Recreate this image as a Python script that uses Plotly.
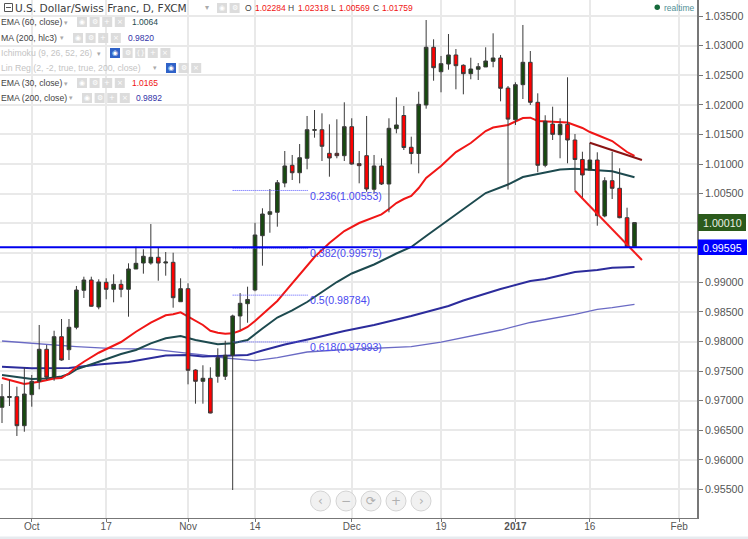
import plotly.graph_objects as go

# ---------- data ----------
opens = [.96889,.97054,.97068,.96578,.97102,.97328,.97869,.97396,.98082,.97862,.98241,.98866,.9904,.98584,.99001,.98883,.98967,.98883,.99226,.99327,.99327,.99424,.99327,.99339,.98673,.98893,.97519,.97328,.97379,.97413,.97413,.97768,.98432,.9864,.98871,.99789,1.0015,1.00184,1.00679,1.00979,1.00853,1.01097,1.0157,1.0158,1.01181,1.01181,1.01141,1.01631,1.01006,1.01141,1.00573,1.00967,1.00662,1.01597,1.0182,1.01283,1.01178,1.01998,1.02973,1.0256,1.0269,1.02843,1.02669,1.02527,1.02601,1.0264,1.02736,1.02792,1.02284,1.01749,1.02341,1.02719,1.02043,1.00979,1.01676,1.01496,1.01671,1.01406,1.01077,1.00899,1.01068,1.00122,1.00718,1.0059,1.00093,.99603]
highs = [.97282,.9735,.97237,.97558,.97435,.9828,.97942,.98183,.98381,.98381,.98939,.99096,.99096,.99052,.99069,.99136,.99045,.99322,.99603,.99559,.99986,.99586,.99513,.99501,.99069,.98984,.97531,.97599,.97565,.97886,.98014,.98454,.9882,.98927,1.00008,1.00252,1.00578,1.0073,1.0122,1.01153,1.01338,1.01812,1.01913,1.01857,1.01671,1.01756,1.02043,1.01773,1.0122,1.01812,1.01153,1.01097,1.01773,1.02128,1.01981,1.01462,1.02222,1.03434,1.03108,1.02826,1.03197,1.02944,1.02685,1.02797,1.02707,1.02973,1.03209,1.02843,1.02318,1.02381,1.0335,1.0291,1.02195,1.01824,1.01969,1.01773,1.02466,1.01507,1.01208,1.0136,1.01198,1.00776,1.01208,1.00928,1.00262,1.0001]
lows = [.96623,.96911,.96404,.96476,.96899,.97193,.9735,.97338,.97676,.97688,.98207,.98736,.98589,.98545,.98714,.98663,.98748,.9842,.99226,.99147,.99299,.99028,.99113,.98572,.98673,.97277,.9695,.9695,.96787,.97304,.9735,.95491,.98195,.98318,.9885,.99282,.99839,.99941,1.00607,1.0073,1.00674,1.00911,1.01445,1.01051,1.00786,1.01097,1.01051,1.00989,1.00674,1.00532,1.00505,1.00646,1.00184,1.01519,1.01237,1.00997,1.00843,1.01935,1.02408,1.02212,1.02594,1.02263,1.02178,1.02432,1.0242,1.0264,1.02635,1.0206,1.00569,1.0166,1.02099,1.01998,1.0086,1.00945,1.01406,1.01097,1.01012,1.00549,1.00421,1.00899,.99958,1.001,1.00409,1.00083,.99593,.99595]
closes = [.97068,.97071,.96578,.97113,.97328,.97869,.97396,.98082,.97688,.98241,.98871,.9904,.98596,.99006,.98883,.98967,.98883,.99226,.99322,.99441,.99424,.99327,.99344,.98741,.98893,.97514,.97328,.97379,.96792,.97727,.97768,.98432,.98646,.98711,.99801,1.00155,1.00194,1.00684,1.00967,1.00853,1.01107,1.0158,1.0158,1.013,1.01102,1.01141,1.01631,1.01,1.00972,1.00578,1.00967,1.00662,1.01604,1.0166,1.01279,1.01178,1.02009,1.02973,1.02628,1.02696,1.02843,1.02662,1.02527,1.02606,1.02645,1.02741,1.02792,1.0228,1.01759,1.02341,1.02719,1.02043,1.00979,1.01722,1.01502,1.01671,1.01406,1.01077,1.00815,1.01068,1.00127,1.00718,1.0059,1.00093,.99603,1.0001]

ema30_i = [0,3,5,7,8,9,10,11,13,16,18,20,22,23,24,25,27,28,29,30,31,32,33,34,35,36,37,38,40,42,44,46,48,50,51,52,53,54,55,56,57,59,61,63,65,66,68,70,71,72,74,76,78,79,80,82,84,85]
ema30 = [.97384,.97282,.97321,.97375,.97384,.97463,.97575,.97659,.97811,.97992,.98166,.98318,.98444,.9846,.98494,.9842,.9828,.98183,.98149,.98133,.98139,.98183,.98246,.98347,.98465,.98584,.98685,.98837,.99141,.99429,.99665,.99868,1.00003,1.00105,1.0015,1.0024,1.00341,1.00409,1.0046,1.00595,1.00764,1.00967,1.01203,1.01355,1.01558,1.01617,1.0166,1.01778,1.01783,1.01727,1.0171,1.01702,1.01609,1.01541,1.01491,1.01389,1.01203,1.01136]

ema60_i = [0,3,4,6,8,9,10,13,16,18,20,22,24,26,28,29,31,33,35,37,39,41,43,45,47,50,53,55,57,60,63,65,68,70,72,75,77,80,82,85]
ema60 = [.97435,.97384,.97367,.97375,.97409,.97451,.97531,.97659,.9779,.97857,.9797,.98055,.98094,.98026,.9797,.97953,.9797,.98026,.9822,.98406,.98525,.98668,.98837,.99006,.9915,.99302,.99488,.99598,.99784,1.00054,1.00324,1.0051,1.00654,1.00781,1.00831,1.00908,1.00921,1.00887,1.00877,1.00776]

ema200_i = [0,4,9,13,17,20,22,25,27,30,33,35,38,42,46,50,55,60,62,67,71,73,77,80,82,85]
ema200 = [.97575,.97548,.97553,.97612,.97654,.97713,.97764,.97773,.97747,.97761,.97773,.97849,.9795,.9806,.98178,.9828,.98432,.98601,.98694,.98888,.99023,.99057,.99175,.99209,.99248,.9926]

ma200_i = [0,4,6,10,15,20,23,27,30,31,34,37,41,45,51,55,59,64,67,71,73,77,80,82,85]
ma200 = [.98009,.9797,.97958,.97913,.97879,.97874,.97828,.97776,.97722,.97713,.97676,.9773,.97823,.97857,.97886,.97913,.97992,.98111,.98195,.98322,.98364,.9846,.98545,.98572,.98629]

wedge_upper_i, wedge_upper = [79, 86], [1.0136, 1.01068]
wedge_lower_i, wedge_lower = [77, 86], [1.00549, .99378]

fib_labels = ["0.236(1.00553)", "0.382(0.99575)", "0.5(0.98784)", "0.618(0.97993)"]
fib_levels = [1.00553, .99575, .98784, .97993]
fib_span = [31, 41.2]

support = 0.99595
last_price = 1.00010

x_tick_pos = [4, 14, 25, 34, 47, 59, 69, 79, 91]
x_tick_text = ["Oct", "17", "Nov", "14", "Dec", "19", "<b>2017</b>", "16", "Feb"]
y_ticks = [1.035, 1.03, 1.025, 1.02, 1.015, 1.01, 1.005, 1.0, .995, .99, .985, .98, .975, .97, .965, .96, .955]
y_tick_hidden = [1.0, .995]   # covered by the price boxes in the reference

# ---------- geometry ----------
W, H = 748, 539
PR, PB = 697, 518          # plot right / bottom in pixels
X_RANGE = [-0.27, 93.4]
Y_RANGE = [.95018, 1.03772]
GREEN, RED = "#17490f", "#ff0000"
FONT = "Liberation Sans, Arial, sans-serif"

def px(x):
    return x / PR

def py(y):
    return (PB - y) / PB

fig = go.Figure()

def ma(xs, ys, color, width):
    fig.add_trace(go.Scatter(x=xs, y=ys, mode="lines", line=dict(color=color, width=width),
                             showlegend=False, hoverinfo="skip"))

ma(ma200_i, ma200, "#6a6ac4", 1.3)
ma(ema200_i, ema200, "#2c2c9c", 2)
ma(ema60_i, ema60, "#1d4a4f", 2)
ma(ema30_i, ema30, "#f01616", 2)

fig.add_trace(go.Candlestick(
    x=list(range(len(opens))), open=opens, high=highs, low=lows, close=closes,
    xaxis="x2", yaxis="y2", showlegend=False, hoverinfo="skip",
    increasing=dict(line=dict(color="#3a3a3a", width=1), fillcolor=GREEN),
    decreasing=dict(line=dict(color="#3a3a3a", width=1), fillcolor=RED),
))
fig.add_trace(go.Scatter(x=wedge_upper_i, y=wedge_upper, mode="lines", xaxis="x2", yaxis="y2",
                         line=dict(color="#8a1414", width=2), showlegend=False, hoverinfo="skip"))
fig.add_trace(go.Scatter(x=wedge_lower_i, y=wedge_lower, mode="lines", xaxis="x2", yaxis="y2",
                         line=dict(color="#f41c1c", width=2), showlegend=False, hoverinfo="skip"))
for lv in fib_levels:
    fig.add_trace(go.Scatter(x=fib_span, y=[lv, lv], mode="lines", xaxis="x2", yaxis="y2",
                             line=dict(color="#5a5aff", width=1, dash="1px,1px"),
                             showlegend=False, hoverinfo="skip"))

shapes, annos = [], []

def text(x, y, s, size=8.5, color="#444", anchor="left", family=FONT):
    annos.append(dict(xref="paper", yref="paper", x=px(x), y=py(y), text=s, showarrow=False,
                      xanchor=anchor, yanchor="middle", align="left", borderpad=0, borderwidth=0,
                      font=dict(size=size, color=color, family=family)))

def rect(x0, y0, x1, y1, fill, line=None, layer="above"):
    shapes.append(dict(type="rect", xref="paper", yref="paper", x0=px(x0), x1=px(x1), y0=py(y0), y1=py(y1),
                       fillcolor=fill, line=dict(width=1 if line else 0, color=line or fill), layer=layer))

# support line and price boxes
shapes.append(dict(type="line", xref="paper", yref="y", x0=0, x1=1, y0=support, y1=support,
                   line=dict(color="#0000ee", width=2), layer="above"))
rect(698, 214, 746, 231, "#2b5a1c")
text(722.5, 222.5, f"{last_price:.5f}", 10.7, "#e8efe4", "center")
rect(698, 239.5, 747, 255, "#0000ff")
text(722.5, 247.5, f"{support:.5f}", 10.7, "#ffffff", "center")

# fib labels
for s, yp in zip(fib_labels, [196, 253, 299.5, 347]):
    text(310, yp, s, 10.6, "#4a4af0")

# bottom strip
rect(0, 536.5, W, 539, "#e7ebef")

# nav buttons
for cx, g in zip([320.5, 346, 371, 396, 421], ["‹", "−", "⟳", "+", "›"]):
    r = 10
    shapes.append(dict(type="circle", xref="paper", yref="paper", x0=px(cx - r), x1=px(cx + r),
                       y0=py(501 + r), y1=py(501 - r), fillcolor="rgba(238,238,238,0.85)",
                       line=dict(color="#d4d4d4", width=1), layer="above"))
    text(cx, 501, g, 12, "#b0b0b0", "center", "DejaVu Sans")

# header
rect(4.5, 3.5, 12.5, 11.5, "#ffffff", "#555555")
shapes.append(dict(type="line", xref="paper", yref="paper", x0=px(6), x1=px(11), y0=py(7.5), y1=py(7.5),
                   line=dict(color="#555555", width=1), layer="above"))
text(14.5, 8, "U.S. Dollar/Swiss Franc, D, FXCM", 10.6, "#3c3c3c", family="DejaVu Sans")
text(205, 8, "▾", 8, "#aaa")

def icons(x0, yc, glyphs):
    for k, g in enumerate(glyphs):
        xl = x0 + k * 12.6
        blue = g == "B"
        rect(xl, yc - 5, xl + 10, yc + 5, "#2f62c8" if blue else "#dcdcdc")
        text(xl + 5, yc, "◉" if blue or g == "e" else g, 7, "#ffffff", "center", "DejaVu Sans")

icons(217, 8, ["e", "⚙"])
for x, s, c in [(245, "O", "#444"), (255, "1.02284", "#f01414"), (288, "H", "#444"), (298, "1.02318", "#f01414"),
                (331, "L", "#444"), (339, "1.00569", "#f01414"), (372.5, "C", "#444"), (382, "1.01759", "#f01414")]:
    text(x, 8, s, 8.5, c)

rows = [
    (22, "EMA (60, close)", "#444", 64, 77, ["e", "⚙", "+", "×"], 131.5, "1.0064", "#1d4a4f"),
    (38, "MA (200, hlc3)", "#444", 60, 73, ["e", "⚙", "+", "×"], 127.5, "0.9820", "#3434a8"),
    (53, "Ichimoku (9, 26, 52, 26)", "#c4c4c4", 97, 110, ["B", "⚙", "{}", "+", "×"], None, None, None),
    (68, "Lin Reg (2, -2, true, true, 200, close)", "#c4c4c4", 153, 166, ["B", "⚙", "×"], None, None, None),
    (83, "EMA (30, close)", "#444", 64, 77, ["e", "⚙", "+", "×"], 131.5, "1.0165", "#f01414"),
    (98, "EMA (200, close)", "#444", 69, 82, ["e", "⚙", "+", "×"], 135.5, "0.9892", "#3434a8"),
]
for yc, name, col, arrow_x, icon_x, gl, vx, val, vc in rows:
    text(0.5, yc, name, 8.7, col)
    text(arrow_x, yc, "▾", 7, "#aaa")
    icons(icon_x, yc, gl)
    if val:
        text(vx, yc, val, 8.5, vc)

# realtime
shapes.append(dict(type="circle", xref="paper", yref="paper", x0=px(654.5), x1=px(660), y0=py(10), y1=py(4.5),
                   fillcolor="#15693a", line=dict(width=0), layer="above"))
text(663.5, 7.5, "realtime", 8.5, "#4f8f96")

grid = "#e9e9e9"
fig.update_layout(
    width=W, height=H, autosize=False, margin=dict(l=0, r=W - PR, t=0, b=H - PB),
    paper_bgcolor="white", plot_bgcolor="white", showlegend=False, boxgap=0.3,
    font=dict(family=FONT, size=12, color="#555"),
    shapes=shapes, annotations=annos,
    xaxis=dict(range=X_RANGE, tickmode="array", tickvals=x_tick_pos, ticktext=x_tick_text,
               showgrid=True, gridcolor=grid, gridwidth=1.5, zeroline=False, showline=True,
               linecolor="#777", linewidth=1, ticks="outside", ticklen=3, tickcolor="#777",
               tickfont=dict(size=10, color="#555"), ticklabelstandoff=-4,
               rangeslider=dict(visible=False), fixedrange=True),
    yaxis=dict(range=Y_RANGE, side="right", tickmode="array", tickvals=y_ticks,
               ticktext=["" if v in y_tick_hidden else f"{v:.5f}" for v in y_ticks],
               showgrid=True, gridcolor=grid, gridwidth=2,
               zeroline=False, showline=True, linecolor="#777", linewidth=1.5, ticks="outside",
               ticklen=4, tickcolor="#777", tickfont=dict(size=10.7, color="#555"), fixedrange=True),
    xaxis2=dict(range=X_RANGE, overlaying="x", visible=False, rangeslider=dict(visible=False), fixedrange=True),
    yaxis2=dict(range=Y_RANGE, overlaying="y", visible=False, fixedrange=True),
)

fig.write_html("out.html", config=dict(displayModeBar=False),
               post_script="document.body.style.margin='0';document.body.style.overflow='hidden';")
